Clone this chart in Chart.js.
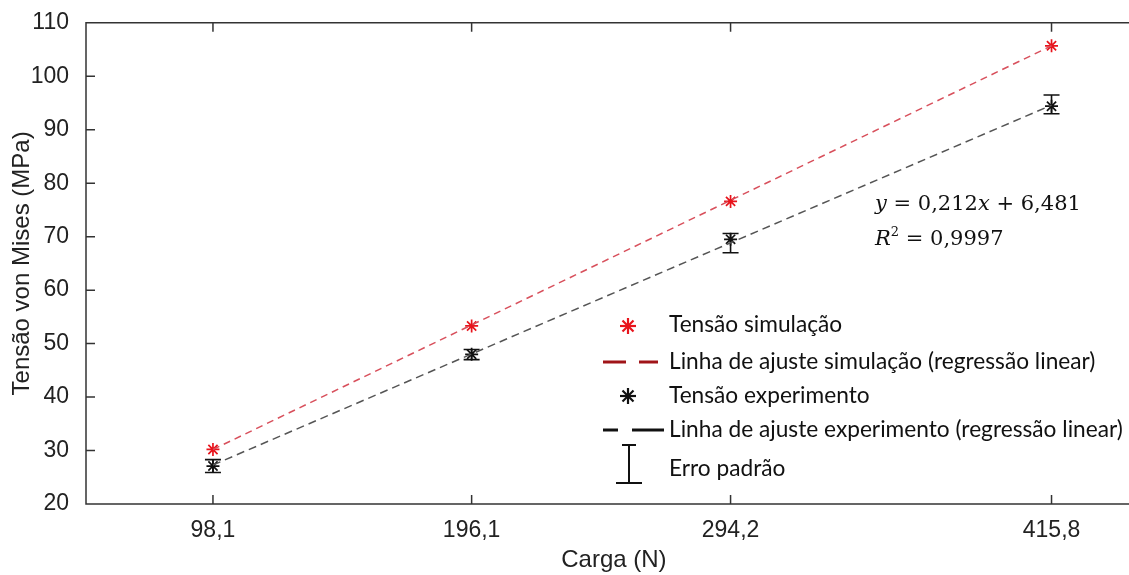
<!DOCTYPE html>
<html>
<head>
<meta charset="utf-8">
<script src="https://cdn.jsdelivr.net/npm/chart.js@4.4.1/dist/chart.umd.min.js"></script>
<style>
  html, body { margin: 0; padding: 0; background: #fff; overflow: hidden; }
  #wrap { position: relative; width: 1129px; height: 575px; overflow: hidden; }
  #c { position: absolute; left: 0; top: 0; }
  .leg { position: absolute; font-family: Lato, "Open Sans", sans-serif; font-size: 22.7px; color: #111; white-space: nowrap; line-height: 1; }
  .sym { position: absolute; }
  .eq { position: absolute; font-family: "DejaVu Serif", serif; font-size: 21px; color: #111; white-space: nowrap; line-height: 1; }
  .eq i { font-style: italic; }
</style>
</head>
<body>
<div id="wrap">
  <canvas id="c" width="1150" height="575"></canvas>

  <svg class="sym" style="left:614px;top:313px" width="28" height="26">
    <g stroke="#e8141c" stroke-width="2.2">
      <line x1="14" y1="5" x2="14" y2="21"/><line x1="6" y1="13" x2="22" y2="13"/>
      <line x1="8.5" y1="7.5" x2="19.5" y2="18.5"/><line x1="19.5" y1="7.5" x2="8.5" y2="18.5"/>
    </g>
  </svg>
  <div class="leg" style="left:669px;top:313px">Tensão simulação</div>

  <svg class="sym" style="left:600px;top:352px" width="66" height="20">
    <g stroke="#a01418" stroke-width="3">
      <line x1="3" y1="10" x2="26" y2="10"/><line x1="39" y1="10" x2="58" y2="10"/>
    </g>
  </svg>
  <div class="leg" style="left:669px;top:350px">Linha de ajuste simulação (regressão linear)</div>

  <svg class="sym" style="left:614px;top:383px" width="28" height="26">
    <g stroke="#111" stroke-width="2.2">
      <line x1="14" y1="5" x2="14" y2="21"/><line x1="6" y1="13" x2="22" y2="13"/>
      <line x1="8.5" y1="7.5" x2="19.5" y2="18.5"/><line x1="19.5" y1="7.5" x2="8.5" y2="18.5"/>
    </g>
  </svg>
  <div class="leg" style="left:669px;top:384px">Tensão experimento</div>

  <svg class="sym" style="left:600px;top:420px" width="66" height="20">
    <g stroke="#111" stroke-width="3">
      <line x1="3" y1="10" x2="18" y2="10"/><line x1="32" y1="10" x2="64" y2="10"/>
    </g>
  </svg>
  <div class="leg" style="left:669px;top:418px">Linha de ajuste experimento (regressão linear)</div>

  <svg class="sym" style="left:612px;top:442px" width="34" height="44">
    <g stroke="#111" stroke-width="2">
      <line x1="17" y1="3" x2="17" y2="41"/><line x1="10" y1="3" x2="24" y2="3"/><line x1="4" y1="41" x2="30" y2="41"/>
    </g>
  </svg>
  <div class="leg" style="left:669px;top:457px">Erro padrão</div>

  <div class="eq" style="left:875px;top:193px"><i>y</i> = 0,212<i>x</i> + 6,481</div>
  <div class="eq" style="left:875px;top:228px"><i>R</i><sup style="font-size:13px;vertical-align:9px;line-height:0">2</sup> = 0,9997</div>
</div>

<script>
// ---- data ----
const loads = [98.1, 196.1, 294.2, 415.8];            // Carga (N)
const loadLabels = ['98,1', '196,1', '294,2', '415,8'];
const simStress = [30.2, 53.3, 76.6, 105.7];          // Tensão simulação (MPa)
const expStress = [27.1, 48.0, 69.5, 94.4];           // Tensão experimento (MPa)
const expErrLow = [25.9, 47.0, 67.0, 93.0];           // erro padrão (lower end)
const expErrHigh = [28.3, 48.9, 70.6, 96.5];          // erro padrão (upper end)
const fitX = [98.1, 415.8];
const simFitY = [30.2, 105.7];
const expFitY = [27.3, 94.6];
const yTicks = [20, 30, 40, 50, 60, 70, 80, 90, 100, 110];

const pts = (xs, ys) => xs.map((x, i) => ({ x: x, y: ys[i] }));

const tickFont = { family: '"Liberation Sans", Arial, sans-serif', size: 23 };
const titleFont = { family: '"Liberation Sans", Arial, sans-serif', size: 24 };

const framePlugin = {
  id: 'frame',
  beforeDatasetsDraw(chart) {
    const { ctx, scales: { x, y } } = chart;
    ctx.save();
    ctx.strokeStyle = '#111';
    ctx.lineWidth = 1.6;
    loads.forEach((v, i) => {
      const px = x.getPixelForValue(v);
      const lo = y.getPixelForValue(expErrLow[i]);
      const hi = y.getPixelForValue(expErrHigh[i]);
      ctx.beginPath();
      ctx.moveTo(px, lo); ctx.lineTo(px, hi);
      ctx.moveTo(px - 8, lo); ctx.lineTo(px + 8, lo);
      ctx.moveTo(px - 8, hi); ctx.lineTo(px + 8, hi);
      ctx.stroke();
    });
    ctx.restore();
  },
  afterDraw(chart) {
    const { ctx, chartArea: a, scales: { x, y } } = chart;
    ctx.save();
    ctx.strokeStyle = '#333';
    ctx.lineWidth = 1.5;
    ctx.beginPath();
    ctx.moveTo(a.right, a.top); ctx.lineTo(a.left, a.top);
    ctx.lineTo(a.left, a.bottom); ctx.lineTo(a.right, a.bottom);
    yTicks.forEach(v => {
      const py = y.getPixelForValue(v);
      ctx.moveTo(a.left, py); ctx.lineTo(a.left + 9, py);
    });
    loads.forEach(v => {
      const px = x.getPixelForValue(v);
      ctx.moveTo(px, a.bottom); ctx.lineTo(px, a.bottom - 9);
      ctx.moveTo(px, a.top); ctx.lineTo(px, a.top + 9);
    });
    ctx.stroke();
    ctx.restore();
  }
};

new Chart(document.getElementById('c'), {
  type: 'scatter',
  data: {
    datasets: [
      {
        label: 'Linha de ajuste simulação (regressão linear)',
        data: pts(fitX, simFitY),
        showLine: true, pointRadius: 0,
        borderColor: '#d8505c', borderWidth: 1.5, borderDash: [7, 5]
      },
      {
        label: 'Linha de ajuste experimento (regressão linear)',
        data: pts(fitX, expFitY),
        showLine: true, pointRadius: 0,
        borderColor: '#555', borderWidth: 1.5, borderDash: [8, 5]
      },
      {
        label: 'Tensão simulação',
        data: pts(loads, simStress),
        pointStyle: 'star', pointRadius: 6.5,
        borderColor: '#e8141c', backgroundColor: '#e8141c', borderWidth: 1.7
      },
      {
        label: 'Tensão experimento',
        data: pts(loads, expStress),
        pointStyle: 'star', pointRadius: 6.5,
        borderColor: '#111', backgroundColor: '#111', borderWidth: 1.7
      }
    ]
  },
  options: {
    responsive: false,
    animation: false,
    layout: { padding: { top: 18, left: 0, right: 8, bottom: 0 } },
    plugins: { legend: { display: false }, tooltip: { enabled: false } },
    scales: {
      x: {
        type: 'linear', min: 50, max: 450,
        afterBuildTicks: s => { s.ticks = loads.map(v => ({ value: v })); },
        ticks: {
          autoSkip: false, maxRotation: 0, padding: 5, color: '#222', font: tickFont,
          callback: (v, i) => loadLabels[i]
        },
        grid: { display: false },
        border: { display: false },
        title: { display: true, text: 'Carga (N)', color: '#222', font: titleFont, padding: { top: 2, bottom: 0 } },
        afterFit: s => { s.height = 71; }
      },
      y: {
        min: 20, max: 110,
        afterBuildTicks: s => { s.ticks = yTicks.map(v => ({ value: v })); },
        ticks: { padding: 9, color: '#222', font: tickFont },
        grid: { display: false },
        border: { display: false },
        title: { display: true, text: 'Tensão von Mises (MPa)', color: '#222', font: titleFont, padding: { top: 8, bottom: 0 } },
        afterFit: s => { s.width = 86; }
      }
    }
  },
  plugins: [framePlugin]
});
</script>
</body>
</html>
